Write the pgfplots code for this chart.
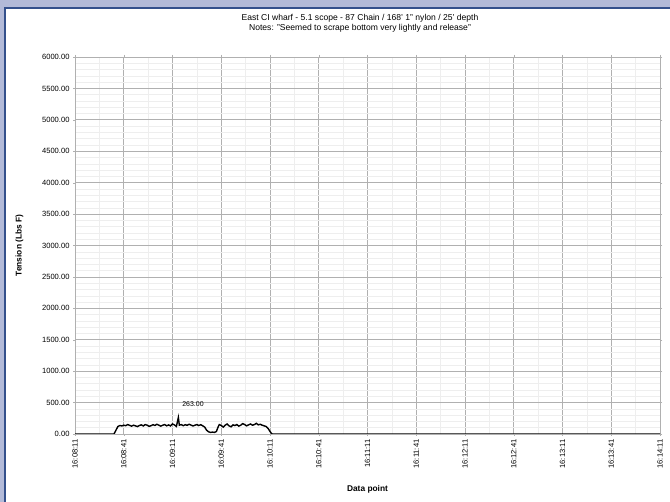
\documentclass[border=0pt]{standalone}
\usepackage{fontspec}
\setmainfont{Liberation Sans}
\usepackage{pgfplots}
\pgfplotsset{compat=1.18}
\definecolor{frame}{HTML}{B3BAD8}
\definecolor{frameline}{HTML}{34508C}
\definecolor{majgrid}{HTML}{B0B0B0}
\definecolor{mingrid}{HTML}{EEEEEE}
\begin{document}
\begin{tikzpicture}[x=1bp,y=1bp]
\useasboundingbox (0,0) rectangle (670,502);
% frame round the picture
\fill[frame] (0,0) rectangle (670,502);
\fill[frameline] (4,0) rectangle (670,495);
\fill[white] (6,0) rectangle (670,493);
\node[font=\fontsize{8.6}{10}\selectfont, align=center] at (360,479) {East CI wharf - 5.1 scope - 87 Chain / 168' 1" nylon / 25' depth\\Notes: "Seemed to scrape bottom very lightly and release"};
\begin{axis}[
  at={(75bp,68bp)}, anchor=south west,
  scale only axis, width=585bp, height=377bp,
  xmin=0, xmax=1200, ymin=0, ymax=6000,
  xtick={0,100,...,1200},
  xticklabels={16:08:11,16:08:41,16:09:11,16:09:41,16:10:11,16:10:41,16:11:11,16:11:41,16:12:11,16:12:41,16:13:11,16:13:41,16:14:11},
  x tick label style={rotate=90, anchor=east, font=\fontsize{7.6}{8}\selectfont},
  ytick={0,500,...,6000},
  y tick label style={font=\fontsize{7.6}{8}\selectfont},
  yticklabel={\pgfmathprintnumber[fixed,fixed zerofill,precision=2,1000 sep={}]{\tick}},
  /pgf/number format/assume math mode=true,
  minor x tick num=1, minor y tick num=4,
  grid=both,
  major grid style={majgrid, line width=0.7bp},
  minor grid style={mingrid, line width=0.5bp},
  axis line style={majgrid, line width=0.9bp},
  tick style={majgrid},
  minor tick length=0pt, major tick length=2bp,
  tick align=outside,
  xlabel={\bfseries Data point},
  ylabel={\bfseries Tension (Lbs F)},
  label style={font=\fontsize{8.4}{9}\selectfont},
  xlabel style={yshift=-10bp},
  ylabel style={yshift=12bp},
]
\addplot[black, line width=1.4bp] coordinates {
(0,0) (80,0) (84,60) (88,120) (92,135) (96,128) (100,140) (104,132) (108,150)
(112,138) (116,125) (120,140) (124,130) (128,118) (132,135) (136,145) (140,128)
(144,150) (148,140) (152,122) (156,132) (160,148) (164,136) (168,155) (172,140)
(176,125) (180,140) (184,150) (188,130) (192,145) (196,128) (200,160) (204,145)
(208,120) (212,263) (214,140) (218,150) (222,132) (226,148) (230,138) (234,155)
(238,142) (242,128) (246,140) (250,150) (254,135) (258,148) (262,130) (266,110)
(270,60) (274,35) (278,25) (282,30) (286,25) (290,40) (294,120) (296,150)
(300,135) (304,110) (308,140) (312,160) (316,130) (320,115) (324,145) (328,135)
(332,150) (336,125) (340,140) (344,165) (348,150) (352,130) (356,145) (360,160)
(364,140) (368,150) (372,170) (376,145) (380,155) (384,140) (388,130) (392,120)
(396,90) (400,40) (404,0) (1200,0)
};
\node[font=\fontsize{7}{8}\selectfont] at (axis cs:242,470) {263.00};
\end{axis}
\end{tikzpicture}
\end{document}
